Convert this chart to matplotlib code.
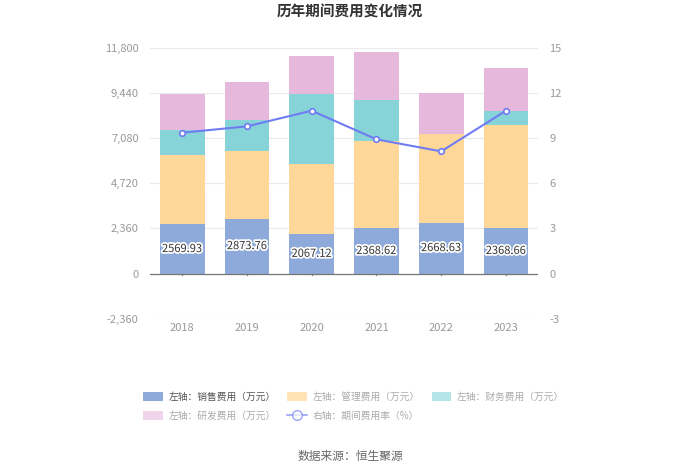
import matplotlib
matplotlib.use("Agg")
import matplotlib.pyplot as plt
import matplotlib.patheffects as pe
from matplotlib.lines import Line2D
from matplotlib.patches import Patch
import numpy as np

plt.rcParams["font.family"] = ["Noto Sans CJK SC", "DejaVu Sans"]
plt.rcParams["axes.unicode_minus"] = False

years = ["2018", "2019", "2020", "2021", "2022", "2023"]
sales = [2569.93, 2873.76, 2067.12, 2368.62, 2668.63, 2368.66]
admin = [3643, 3548, 3676, 4539, 4640, 5410]
finance = [1269, 1618, 3619, 2141, -90, 696]
rnd = [1916, 1968, 1984, 2542, 2141, 2263]
rate = [9.36, 9.78, 10.82, 8.92, 8.12, 10.82]

left_ticks = [-2360, 0, 2360, 4720, 7080, 9440, 11800]
right_ticks = [-3, 0, 3, 6, 9, 12, 15]

c_sales = "#8eaadb"
c_admin = "#ffd899"
c_fin = "#86d4d8"
c_rnd = "#e6b9dc"
c_line = "#6f7cf2"

fig = plt.figure(figsize=(7.0, 4.73), dpi=100)
ax = fig.add_axes([0.214, 0.326, 0.555, 0.573])
x = np.arange(len(years))
w = 0.69

sales_a = np.array(sales)
admin_a = np.array(admin)
fin_a = np.array(finance)
rnd_a = np.array(rnd)

pos_base = np.zeros(len(years))
neg_base = np.zeros(len(years))
for vals, col in [(sales_a, c_sales), (admin_a, c_admin), (fin_a, c_fin), (rnd_a, c_rnd)]:
    base = np.where(vals >= 0, pos_base, neg_base)
    ax.bar(x, vals, w, bottom=base, color=col, zorder=2)
    pos_base = pos_base + np.where(vals >= 0, vals, 0)
    neg_base = neg_base + np.where(vals < 0, vals, 0)

for xi, v in zip(x, sales):
    ax.text(xi, v / 2, f"{v:.2f}", ha="center", va="center", fontsize=8, color="#333333",
            zorder=5, path_effects=[pe.withStroke(linewidth=2.5, foreground="white")])

ax.set_xlim(-0.5, len(years) - 0.5)
ax.set_ylim(-2360, 11800)
ax.set_yticks(left_ticks)
ax.set_yticklabels([f"{t:,}" for t in left_ticks])
ax.set_xticks(x)
ax.set_xticklabels(years)
ax.tick_params(axis="y", length=0, labelsize=8, colors="#999999", pad=8)
ax.tick_params(axis="x", length=0, labelsize=8, colors="#999999", pad=3)
ax.grid(axis="y", color="#e8eaf0", linewidth=0.8, zorder=0)
for s in ax.spines.values():
    s.set_visible(False)
ax.axhline(0, color="#777777", linewidth=0.9, zorder=3)
for xi in x:
    ax.plot([xi, xi], [0, -80], color="#777777", linewidth=0.9, zorder=3, clip_on=False)

ax2 = ax.twinx()
ax2.set_ylim(-3, 15)
ax2.set_yticks(right_ticks)
ax2.tick_params(axis="y", length=0, labelsize=8, colors="#999999", pad=8)
for s in ax2.spines.values():
    s.set_visible(False)
ax2.plot(x, rate, color=c_line, linewidth=1.5, marker="o", markersize=4,
         markerfacecolor="white", markeredgecolor=c_line, markeredgewidth=1.2, zorder=4)

fig.text(0.5, 0.975, "历年期间费用变化情况", ha="center", va="center", fontsize=10.5,
         fontweight="bold", color="#333333")

h_sales = Patch(facecolor=c_sales, edgecolor="none")
h_admin = Patch(facecolor=c_admin, edgecolor="none", alpha=0.7)
h_fin = Patch(facecolor=c_fin, edgecolor="none", alpha=0.6)
h_rnd = Patch(facecolor=c_rnd, edgecolor="none", alpha=0.6)
h_rate = Line2D([0], [0], color=c_line, marker="o", markersize=7, markerfacecolor="white",
                markeredgecolor=c_line, linewidth=1.2, alpha=0.7)
# column-wise fill: order so rows read sales/admin/finance, rnd/rate
handles = [h_sales, h_rnd, h_admin, h_rate, h_fin]
labels = ["左轴：销售费用（万元）", "左轴：研发费用（万元）", "左轴：管理费用（万元）",
          "右轴：期间费用率（%）", "左轴：财务费用（万元）"]
leg = fig.legend(handles, labels, loc="upper left", bbox_to_anchor=(0.192, 0.19), ncol=3,
                 frameon=False, fontsize=7, handlelength=2.0, handleheight=1.0,
                 columnspacing=1.2, handletextpad=0.6, labelspacing=0.95)
for h, t in zip(handles, leg.get_texts()):
    t.set_color("#555555" if h is h_sales else "#aaaaaa")

fig.text(0.5, 0.034, "数据来源：恒生聚源", ha="center", va="center", fontsize=8.5, color="#666666")

fig.savefig("out.png", dpi=100)
